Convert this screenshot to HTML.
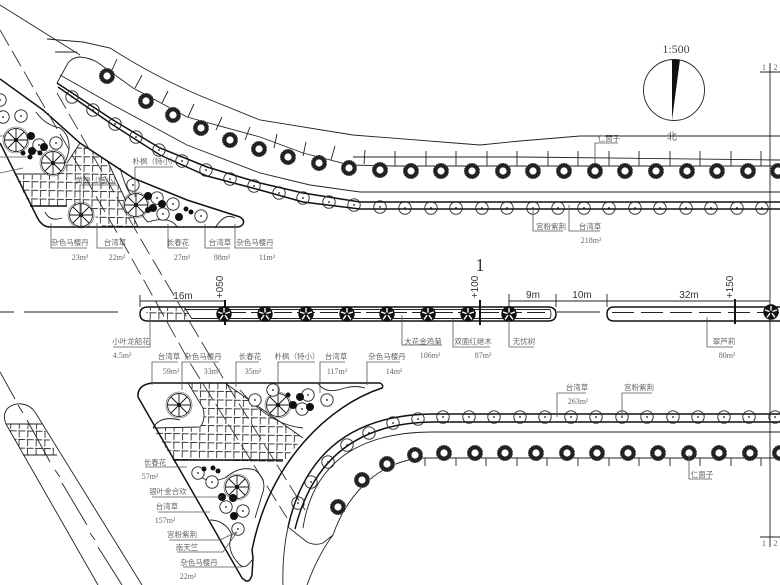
<!DOCTYPE html>
<html><head><meta charset="utf-8"><style>
html,body{margin:0;padding:0;background:#fff}
svg{display:block;filter:blur(.35px)}
.l{fill:none;stroke:#222;stroke-width:.9}
.b{fill:none;stroke:#111;stroke-width:1.5}
.g{fill:none;stroke:#555;stroke-width:.8}
.d{fill:none;stroke:#333;stroke-width:.9;stroke-dasharray:18 6}
text{font-family:"Liberation Sans","Noto Sans CJK SC",sans-serif;fill:#666;font-size:7.5px;text-anchor:middle}
.n{font-family:"Liberation Serif",serif;font-size:8px}
.k{fill:#333;font-size:10px}
</style></head><body>
<svg width="780" height="585" viewBox="0 0 780 585" xmlns="http://www.w3.org/2000/svg">
<defs>
<pattern id="h" width="8.6" height="8.6" patternUnits="userSpaceOnUse" patternTransform="rotate(1)">
<path d="M0 .5H7M1 0V7" fill="none" stroke="#333" stroke-width=".9"/>
</pattern>
<g id="r"><circle r="5.800" fill="#fff" stroke="#222" stroke-width="4.400"/><circle r="7.800" fill="none" stroke="#fff" stroke-width=".6" stroke-dasharray="1 1.500"/></g>
<g id="s"><circle r="6.200" fill="none" stroke="#222" stroke-width=".9"/><circle r=".9" fill="#111"/></g>
<g id="m"><circle r="7.200" fill="#111"/><path d="M0 -1.500V-6M1.500 -.5L6 -2M1 1.200L4 5.500M-1 1.200L-4 5.500M-1.500 -.5L-6 -2" stroke="#fff" stroke-width="1.400"/><circle r="7.200" fill="none" stroke="#111"/></g>
<g id="w"><circle r="11.500" fill="#fff" stroke="#222" stroke-width=".9"/><circle r="13" fill="none" stroke="#555" stroke-width=".6"/><path d="M0 0L0 -11M0 0L8 -8M0 0L11 0M0 0L8 8M0 0L0 11M0 0L-8 8M0 0L-11 0M0 0L-8 -8" stroke="#111" stroke-width=".9"/><circle r="2" fill="#111"/></g>
</defs>

<!-- compass -->
<text x="676" y="53" style="font-family:'Liberation Serif',serif;font-size:12px;fill:#444">1:500</text>
<circle cx="674" cy="90" r="30.500" fill="none" stroke="#222" stroke-width=".9"/>
<path d="M672 59.500H680L672 120Z" fill="#111"/>
<text x="672" y="140" style="font-size:10px">北</text>

<!-- match line -->
<path class="l" d="M770 63V547M760 72H780M760 537H780"/>
<text x="764" y="70" class="n">1</text><text x="775.500" y="70" class="n">2</text>
<text x="764" y="546" class="n">1</text><text x="775.500" y="546" class="n">2</text>

<!-- top road edges -->
<path class="l" d="M0 5L40 30L80 55"/>
<path class="l" d="M47 39L83 42L110 48Q160 80 213 101L260 120L353 135L480 145L520 141L580 136H780"/>
<path class="l" d="M55 52H77"/>
<path class="l" d="M57 83L68 63Q73 57 80 57Q90 58 97 62L133 88L187 117L260 137L303 153L350 165L393 166"/>
<path class="l" d="M353 157H520L780 160"/>
<path class="l" d="M393 166H780"/>
<path class="l" d="M60 75L113 105L187 145L260 173L310 185L360 192H780"/>
<path class="b" d="M57 83L113 120L160 148L207 167L260 183L303 193L360 202H780"/>
<path class="b" d="M58 87L113 125L160 155L207 176L260 190L303 202L360 209H780"/>
<path class="l" d="M117 59L112 70M142 75L135 88M168 91L162 103M194 104L188 117M222 117L216 130M250 127L245 140M277 134L274 148M306 142L303 156M335 146L331 160M365 150L364 164M395 151V166M426 151V166M456 151V166M487 151V166M517 151V166M548 151V166M578 151V166M609 151V166M639 151V166M670 151V166M700 151V166M731 151V166M761 151V166"/>

<g>
<use href="#r" x="107" y="76"/><use href="#r" x="146" y="101"/><use href="#r" x="173" y="115"/><use href="#r" x="201" y="128"/><use href="#r" x="230" y="140"/><use href="#r" x="259" y="149"/><use href="#r" x="288" y="157"/><use href="#r" x="319" y="163"/><use href="#r" x="349" y="168"/><use href="#r" x="380" y="170"/><use href="#r" x="411" y="171"/><use href="#r" x="441" y="171"/><use href="#r" x="472" y="171"/><use href="#r" x="503" y="171"/><use href="#r" x="533" y="171"/><use href="#r" x="564" y="171"/><use href="#r" x="595" y="171"/><use href="#r" x="625" y="171"/><use href="#r" x="656" y="171"/><use href="#r" x="687" y="171"/><use href="#r" x="717" y="171"/><use href="#r" x="748" y="171"/><use href="#r" x="778" y="171"/>
<use href="#s" x="72" y="97"/><use href="#s" x="93" y="110"/><use href="#s" x="115" y="124"/><use href="#s" x="136" y="137"/><use href="#s" x="159" y="150"/><use href="#s" x="182" y="161"/><use href="#s" x="206" y="170"/><use href="#s" x="230" y="179"/><use href="#s" x="254" y="186"/><use href="#s" x="279" y="193"/><use href="#s" x="303" y="198"/><use href="#s" x="329" y="202"/><use href="#s" x="354" y="205"/><use href="#s" x="380" y="207"/><use href="#s" x="405" y="208"/><use href="#s" x="431" y="208"/><use href="#s" x="456" y="208"/><use href="#s" x="482" y="208"/><use href="#s" x="507" y="208"/><use href="#s" x="533" y="208"/><use href="#s" x="558" y="208"/><use href="#s" x="584" y="208"/><use href="#s" x="609" y="208"/><use href="#s" x="635" y="208"/><use href="#s" x="660" y="208"/><use href="#s" x="686" y="208"/><use href="#s" x="711" y="208"/><use href="#s" x="737" y="208"/><use href="#s" x="762" y="208"/>
</g>

<!-- top-left island -->
<path d="M15 175H57L67 163L80 143L107 160L138 227H103L90 210L67 206H30Z" fill="url(#h)" stroke="none"/>
<path class="l" d="M107 160L138 227"/>
<path class="b" d="M30 206H67"/>
<path class="b" d="M0 79L43 110L80 143L133 178L187 200L240 217Q245 220 243 224Q241 227 237 227H50Q42 227 37 217L15 173L0 143"/>
<path class="l" d="M36 112Q45 125 60 128Q70 135 69 150Q65 170 53 174H15"/>
<path class="l" d="M80 143L67 163"/>
<path class="l" d="M120 168Q125 185 128 190Q140 215 148 222Q170 215 178 228M215 228Q225 212 235 218M45 212Q50 222 62 218"/>
<path class="g" d="M0 136H16M0 157H30M0 173L23 168"/>
<g fill="#fff"><circle cx="21" cy="116" r="6"/><circle cx="39" cy="145" r="6"/><circle cx="56" cy="143" r="6"/><circle cx="133" cy="185" r="6"/><circle cx="157" cy="198" r="6"/><circle cx="173" cy="204" r="6"/><circle cx="163" cy="214" r="6"/><circle cx="201" cy="216" r="6"/></g>
<use href="#s" x="21" y="116"/><use href="#s" x="3" y="117"/><use href="#s" x="0" y="100"/>
<use href="#w" x="16" y="140"/><use href="#w" x="53" y="163"/><use href="#w" x="81" y="215"/><use href="#w" x="136" y="205"/>
<use href="#s" x="39" y="145"/><use href="#s" x="56" y="143"/><use href="#s" x="133" y="185"/><use href="#s" x="157" y="198"/><use href="#s" x="173" y="204"/><use href="#s" x="163" y="214"/><use href="#s" x="201" y="216"/>
<g fill="#111"><circle cx="31" cy="136" r="4"/><circle cx="44" cy="147" r="4"/><circle cx="32" cy="151" r="4"/><circle cx="23" cy="153" r="2.500"/><circle cx="40" cy="153" r="2.500"/><circle cx="30" cy="157" r="2.500"/><circle cx="148" cy="196" r="4"/><circle cx="162" cy="204" r="4"/><circle cx="153" cy="208" r="4"/><circle cx="148" cy="210" r="3"/><circle cx="179" cy="217" r="4"/><circle cx="186" cy="209" r="2.500"/><circle cx="191" cy="212" r="2.500"/></g>

<!-- dashed road centerlines -->
<path class="d" d="M0 30L127 250L190 363L287 518"/>
<path class="d" d="M57 93L147 250L223 378L305 510"/>

<!-- top-left leaders -->
<path class="g" d="M51 223V248H87M97 223V248H123M168 224V248H188M205 224V248H230M235 224V248H273M135 197V167H173M80 215V185H117"/>
<text x="70" y="245">杂色马樱丹</text><text x="115" y="245">台湾草</text><text x="178" y="245">长春花</text><text x="220" y="245">台湾草</text><text x="255" y="245">杂色马樱丹</text>
<text x="80" y="260" class="n">23m²</text><text x="117" y="260" class="n">22m²</text><text x="182" y="260" class="n">27m²</text><text x="222" y="260" class="n">98m²</text><text x="267" y="260" class="n">11m²</text>
<text x="155" y="164">朴枫（特小）</text><text x="98" y="183">黄槐（特小）</text>

<!-- median -->
<path class="l" d="M0 312H14M24 312H118M557 312H600"/>
<path d="M146 308H192L184 321H147Z" fill="url(#h)"/>
<path class="b" d="M780 307H614Q607 307 607 314Q607 321 614 321H780"/>
<path class="b" d="M148 307H548Q556 307 556 314Q556 321 548 321H148Q140 321 140 314Q140 307 148 307Z"/>
<path class="l" d="M185 309.500H550Q552 314 550 318.500H192M185 308L192 319"/>
<path class="l" d="M228 312.500H550" style="stroke-dasharray:18 5"/>
<path class="l" d="M612 312.500H780" style="stroke-dasharray:22 7"/>
<path d="M225 300V325M480 300V325M735 299V324" stroke="#111" stroke-width="2" fill="none"/>
<use href="#m" x="224" y="314"/><use href="#m" x="265" y="314"/><use href="#m" x="306" y="314"/><use href="#m" x="347" y="314"/><use href="#m" x="387" y="314"/><use href="#m" x="428" y="314"/><use href="#m" x="468" y="314"/><use href="#m" x="509" y="314"/><use href="#m" x="771" y="312"/>
<path class="l" d="M140 301H225M509 301H770M140 295V307M509 294V307M556 294V307M607 294V307"/>
<text x="183" y="299" style="font-size:10px;fill:#333">16m</text><text x="533" y="298" style="font-size:10px;fill:#333">9m</text><text x="582" y="298" style="font-size:10px;fill:#333">10m</text><text x="689" y="298" style="font-size:10px;fill:#333">32m</text>
<text transform="translate(223,287) rotate(-90)" class="k">+050</text>
<text transform="translate(478,287) rotate(-90)" class="k">+100</text>
<text transform="translate(733,287) rotate(-90)" class="k">+150</text>
<text x="480" y="271" style="font-family:'Liberation Serif',serif;font-size:18px;fill:#333">1</text>
<path class="g" d="M150 318V347H113M402 315V345H442M453 319V347H490M509 320V347H534M707 317V347H733"/>
<text x="131" y="344">小叶龙船花</text><text x="423" y="344">大花金鸡菊</text><text x="473" y="344">双面红继木</text><text x="524" y="344">无忧树</text><text x="724" y="344">翠芦莉</text>
<text x="122" y="358" class="n">4.5m²</text><text x="430" y="358" class="n">106m²</text><text x="483" y="358" class="n">87m²</text><text x="727" y="358" class="n">80m²</text>

<!-- lower island -->
<path d="M188 383H225L303 438L283 462L173 460L153 428H200Q206 415 203 408Z" fill="url(#h)"/>
<path class="l" d="M188 383L203 408Q206 420 200 427L153 428M225 383L303 438"/>
<path class="b" d="M173 460H283"/>
<path class="b" d="M152 383H380Q384 385 382 388C330 405 270 460 252 550L253 558L252 575Q250 582 246 581L242 578L138 397Q137 385 152 383Z"/>
<path class="l" d="M153 428Q160 415 180 420M318 383Q325 395 345 388Q355 385 365 388M240 390Q270 425 303 428M196 472Q205 485 225 478Q240 465 255 470Q268 480 262 495L255 518M210 520Q225 520 232 535Q225 550 240 565Q245 570 252 560"/>
<use href="#w" x="179" y="405"/><use href="#w" x="278" y="405"/><use href="#w" x="237" y="487"/>
<g fill="#fff"><circle cx="273" cy="390" r="6"/><circle cx="255" cy="400" r="6"/><circle cx="302" cy="409" r="6"/><circle cx="308" cy="395" r="6"/><circle cx="198" cy="473" r="6"/><circle cx="212" cy="482" r="6"/><circle cx="226" cy="507" r="6"/><circle cx="243" cy="511" r="6"/><circle cx="238" cy="529" r="6"/></g>
<use href="#s" x="273" y="390"/><use href="#s" x="255" y="400"/><use href="#s" x="308" y="395"/><use href="#s" x="327" y="400"/><use href="#s" x="302" y="409"/><use href="#s" x="198" y="473"/><use href="#s" x="212" y="482"/><use href="#s" x="226" y="507"/><use href="#s" x="243" y="511"/><use href="#s" x="238" y="529"/>
<g fill="#111"><circle cx="300" cy="397" r="4"/><circle cx="310" cy="407" r="4"/><circle cx="293" cy="405" r="4"/><circle cx="288" cy="395" r="2.500"/><circle cx="222" cy="497" r="4"/><circle cx="233" cy="498" r="4"/><circle cx="234" cy="516" r="4"/><circle cx="213" cy="468" r="2.500"/><circle cx="218" cy="471" r="2.500"/><circle cx="204" cy="469" r="2.500"/></g>
<path class="g" d="M152 385V362H178M182 390V362H219M236 387V362H259M278 395V362H315M320 393V362H345M367 385V362H400M145 467H187M152 497H222M158 512H210M169 540H220L237 532M177 552H223L237 532M183 567H242"/>
<text x="169" y="359">台湾草</text><text x="203" y="359">杂色马樱丹</text><text x="250" y="359">长春花</text><text x="297" y="359">朴枫（特小）</text><text x="336" y="359">台湾草</text><text x="387" y="359">杂色马樱丹</text>
<text x="171" y="374" class="n">59m²</text><text x="212" y="374" class="n">33m²</text><text x="253" y="374" class="n">35m²</text><text x="337" y="374" class="n">117m²</text><text x="394" y="374" class="n">14m²</text>
<text x="155" y="465">长春花</text><text x="150" y="479" class="n">57m²</text><text x="168" y="494">银叶金合欢</text><text x="167" y="509">台湾草</text><text x="165" y="523" class="n">157m²</text><text x="182" y="537">宫粉紫荆</text><text x="187" y="550">南天竺</text><text x="199" y="565">杂色马樱丹</text><text x="188" y="579" class="n">22m²</text>

<!-- lower right road -->
<path class="b" d="M288 527C303 460 345 414 435 414H780"/>
<path class="b" d="M295 529C311 465 352 422 435 422H780"/>
<path class="l" d="M283 585Q282 555 288 527L307 542Q315 546 323 543L333 535C345 500 375 460 425 458H780M307 585Q318 555 333 535M303 528C312 470 350 432 433 432H780"/>
<path class="l" d="M425 458V466M456 458V466M486 458V466M517 458V466M547 458V466M578 458V466M609 458V466M639 458V466M670 458V466M700 458V466M731 458V466M761 458V466"/>
<use href="#r" x="338" y="507"/><use href="#r" x="362" y="480"/><use href="#r" x="387" y="464"/><use href="#r" x="415" y="455"/><use href="#r" x="444" y="453"/><use href="#r" x="475" y="453"/><use href="#r" x="505" y="453"/><use href="#r" x="536" y="453"/><use href="#r" x="567" y="453"/><use href="#r" x="597" y="453"/><use href="#r" x="628" y="453"/><use href="#r" x="658" y="453"/><use href="#r" x="689" y="453"/><use href="#r" x="719" y="453"/><use href="#r" x="750" y="453"/><use href="#r" x="780" y="453"/>
<use href="#s" x="298" y="503"/><use href="#s" x="311" y="482"/><use href="#s" x="328" y="462"/><use href="#s" x="347" y="445"/><use href="#s" x="369" y="433"/><use href="#s" x="393" y="423"/><use href="#s" x="418" y="419"/><use href="#s" x="443" y="417"/><use href="#s" x="469" y="417"/><use href="#s" x="494" y="417"/><use href="#s" x="520" y="417"/><use href="#s" x="545" y="417"/><use href="#s" x="571" y="417"/><use href="#s" x="596" y="417"/><use href="#s" x="622" y="417"/><use href="#s" x="647" y="417"/><use href="#s" x="673" y="417"/><use href="#s" x="698" y="417"/><use href="#s" x="724" y="417"/><use href="#s" x="749" y="417"/><use href="#s" x="775" y="417"/>
<path class="g" d="M557 417V393H586M622 417V393H652M689 455V479H712M533 208V231H563M569 205V231H600M595 163V143H618"/>
<text x="577" y="390">台湾草</text><text x="639" y="390">宫粉紫荆</text><text x="578" y="404" class="n">263m²</text><text x="702" y="477">仁面子</text>
<text x="551" y="229">宫粉紫荆</text><text x="590" y="229">台湾草</text><text x="591" y="243" class="n">218m²</text><text x="609" y="141">仁面子</text>

<!-- bottom-left road -->
<path d="M6 424H42L57 455H23Z" fill="url(#h)"/>
<path class="l" d="M6 424H42M23 455H57"/>
<path class="l" d="M98 585L6 424Q2 414 8 408Q14 403 22 404Q30 405 35 412L142 585"/>
<path class="l" d="M0 372L15 399M18 405L23 413M27 420L50 462M55 470L60 477M62 483L87 525M90 533L95 540M98 547L122 585"/>
</svg>
</body></html>
